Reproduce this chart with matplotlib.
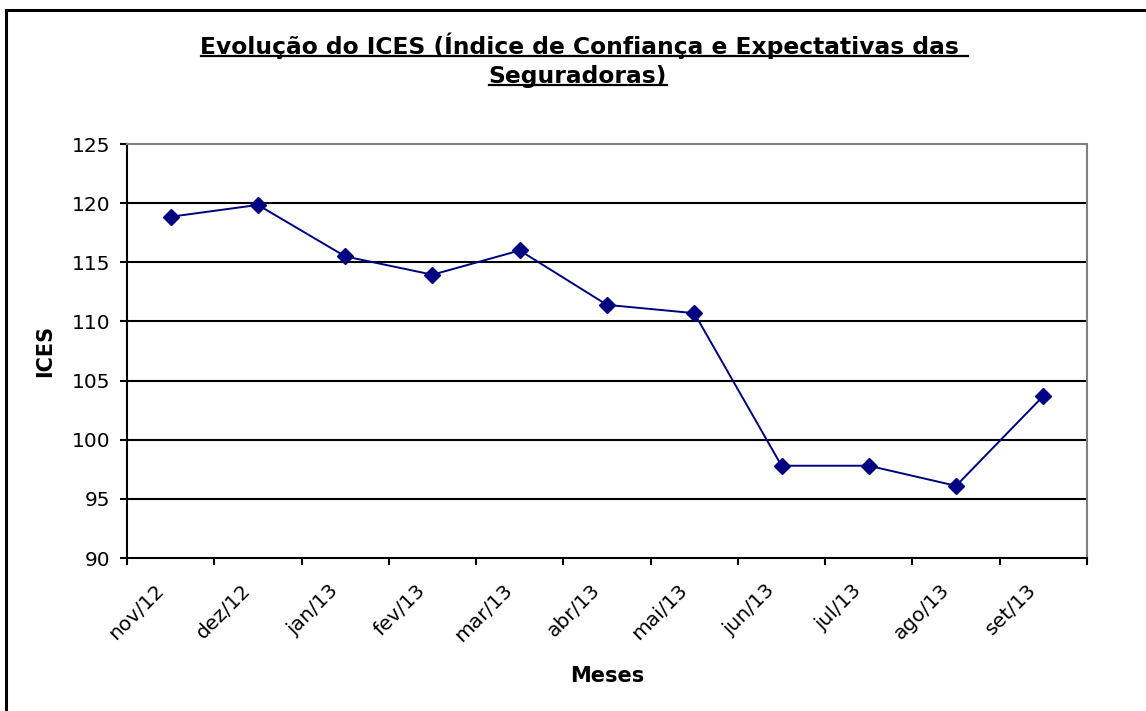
import matplotlib
matplotlib.use("Agg")
import matplotlib.pyplot as plt
from matplotlib.lines import Line2D
from matplotlib.transforms import ScaledTranslation
import numpy as np

months = ["nov/12", "dez/12", "jan/13", "fev/13", "mar/13", "abr/13",
          "mai/13", "jun/13", "jul/13", "ago/13", "set/13"]
ices = [118.85, 119.85, 115.5, 113.95, 116.0, 111.4, 110.7, 97.8, 97.8, 96.1, 103.7]
y_ticks = [90, 95, 100, 105, 110, 115, 120, 125]
title_lines = ["Evolução do ICES (Índice de Confiança e Expectativas das ", "Seguradoras)"]
x_label = "Meses"
y_label = "ICES"

W, H = 1146, 711
fig = plt.figure(figsize=(W / 100, H / 100), dpi=100)
fig.patch.set_facecolor("white")

L, R, T, B = 127, 1087, 144, 558
ax = fig.add_axes([L / W, 1 - B / H, (R - L) / W, (B - T) / H])

n = len(months)
xc = np.arange(n) + 0.5
ax.plot(xc, ices, color="#000080", lw=1.4, marker="D", ms=8.5,
        markerfacecolor="#000080", markeredgecolor="#000080", zorder=3, clip_on=False)

ax.set_xlim(0, n)
ax.set_ylim(90, 125)
ax.set_yticks(y_ticks)
ax.set_yticklabels([str(v) for v in y_ticks], fontsize=14.5)
ax.set_xticks(np.arange(n + 1))
ax.set_xticklabels([])
ax.set_xticks(xc, minor=True)
ax.set_xticklabels(months, minor=True, rotation=45, ha="right", va="center",
                   rotation_mode="anchor", fontsize=14.5)
ax.tick_params(axis="x", which="minor", length=0, pad=21)
ax.tick_params(axis="x", which="major", direction="out", length=5, width=1.5, color="black")
ax.tick_params(axis="y", direction="out", length=5, width=1.5, color="black", pad=7)
off = ScaledTranslation(-10 / 100, 0, fig.dpi_scale_trans)
for lab in ax.get_xticklabels(minor=True):
    lab.set_transform(lab.get_transform() + off)

for v in y_ticks[1:-1]:
    ax.axhline(v, color="black", lw=1.5, zorder=1)

for s in ["left", "bottom"]:
    ax.spines[s].set_color("black")
    ax.spines[s].set_linewidth(1.5)
for s in ["top", "right"]:
    ax.spines[s].set_color("#808080")
    ax.spines[s].set_linewidth(1.5)

fig.text(45 / W, 1 - 351 / H, y_label, rotation=90, fontsize=15, fontweight="bold",
         ha="center", va="center")
fig.text(607 / W, 1 - 676 / H, x_label, fontsize=15, fontweight="bold",
         ha="center", va="center")

# title with underline
t1 = fig.text(584 / W, 1 - 46 / H, title_lines[0], fontsize=16.8, fontweight="bold",
              ha="center", va="center")
t2 = fig.text(578 / W, 1 - 76 / H, title_lines[1], fontsize=16.8, fontweight="bold",
              ha="center", va="center")
fig.canvas.draw()
r = fig.canvas.get_renderer()
for t in (t1, t2):
    bb = t.get_window_extent(r)
    yline = bb.y0 + 3
    fig.add_artist(Line2D([bb.x0 / W, bb.x1 / W], [yline / H, yline / H],
                          transform=fig.transFigure, color="black", lw=1.6))

# outer border (top and left visible)
fig.add_artist(Line2D([6 / W, 1], [1 - 10 / H, 1 - 10 / H], transform=fig.transFigure,
                      color="black", lw=2.2))
fig.add_artist(Line2D([6 / W, 6 / W], [0, 1 - 10 / H], transform=fig.transFigure,
                      color="black", lw=2.2))

fig.savefig("out.png", dpi=100)
